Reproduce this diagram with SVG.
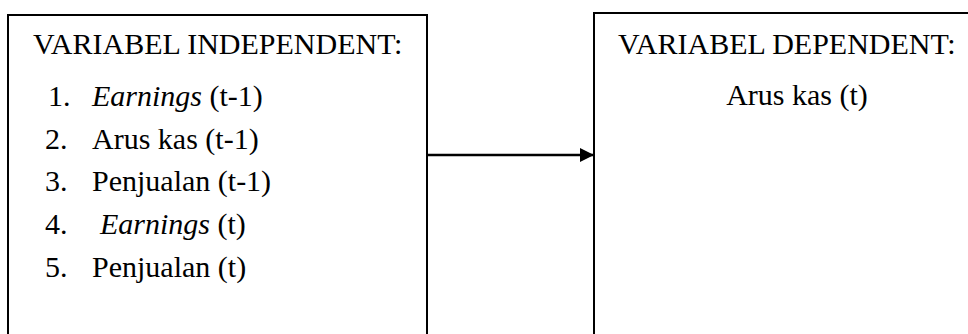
<svg xmlns="http://www.w3.org/2000/svg" width="968" height="334" viewBox="0 0 968 334">
  <defs>
    <style>
      .box { fill: #ffffff; stroke: #000000; stroke-width: 2; }
      .t { font-family: "Liberation Serif", "Times New Roman", serif; font-size: 30px; fill: #000000; }
      .i { font-style: italic; }
      .conn { stroke: #000000; stroke-width: 2.5; fill: none; }
    </style>
    <marker id="arrow" markerWidth="14" markerHeight="14" refX="14" refY="7" orient="auto" markerUnits="userSpaceOnUse">
      <path d="M0,0 L14,7 L0,14 Z" fill="#000000"/>
    </marker>
  </defs>
  <rect width="968" height="334" fill="#ffffff"/>
  <g id="independent">
    <rect class="box" x="8" y="15" width="419" height="330"/>
    <text class="t" x="33" y="54">VARIABEL INDEPENDENT:</text>
    <text class="t" x="48" y="106">1.</text>
    <text class="t" x="92" y="106"><tspan class="i">Earnings</tspan> (t-1)</text>
    <text class="t" x="45" y="149">2.</text>
    <text class="t" x="92" y="149">Arus kas (t-1)</text>
    <text class="t" x="45" y="191">3.</text>
    <text class="t" x="92" y="191">Penjualan (t-1)</text>
    <text class="t" x="45" y="234">4.</text>
    <text class="t" x="100" y="234"><tspan class="i">Earnings</tspan> (t)</text>
    <text class="t" x="45" y="277">5.</text>
    <text class="t" x="92" y="277">Penjualan (t)</text>
  </g>
  <g id="dependent">
    <rect class="box" x="594" y="13" width="420" height="332"/>
    <text class="t" x="618" y="54">VARIABEL DEPENDENT:</text>
    <text class="t" x="797" y="105" text-anchor="middle">Arus kas (t)</text>
  </g>
  <g id="connectors">
    <line class="conn" x1="427" y1="155" x2="594" y2="155" marker-end="url(#arrow)"/>
  </g>
</svg>
